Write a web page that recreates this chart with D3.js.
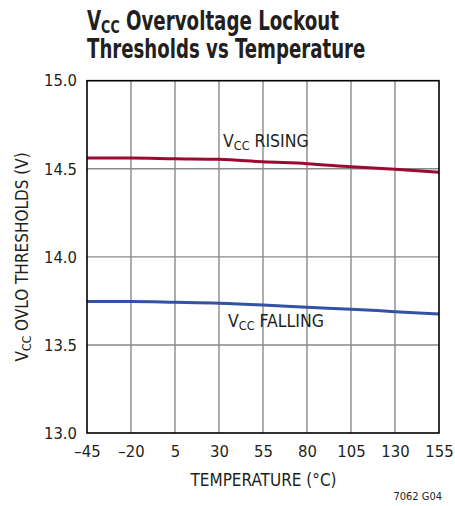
<!DOCTYPE html>
<html>
<head>
<meta charset="utf-8">
<script src="https://cdn.jsdelivr.net/npm/d3@7"></script>
<style>
  body { margin: 0; background: #fff; }
  svg { display: block; }
  text { font-family: "DejaVu Sans Condensed", "Liberation Sans Narrow", sans-serif; fill: #231f20; }
</style>
</head>
<body>
<svg id="chart" width="455" height="506"></svg>
<script>
const temperatures = [-45, -20, 5, 30, 55, 80, 105, 130, 155];
const rising  = [14.561, 14.561, 14.557, 14.554, 14.540, 14.529, 14.512, 14.497, 14.480];
const falling = [13.746, 13.746, 13.742, 13.737, 13.727, 13.714, 13.703, 13.689, 13.676];
const xTicks = [-45, -20, 5, 30, 55, 80, 105, 130, 155];
const yTicks = [13.0, 13.5, 14.0, 14.5, 15.0];

const svg = d3.select("#chart");
const m = { left: 87, top: 80.7, right: 439, bottom: 433 };

const x = d3.scaleLinear().domain([-45, 155]).range([m.left, m.right]);
const y = d3.scaleLinear().domain([13, 15]).range([m.bottom, m.top]);

// grid
const grid = svg.append("g");
grid.selectAll("line.v").data(xTicks.slice(1, -1)).join("line")
  .attr("x1", d => x(d)).attr("x2", d => x(d))
  .attr("y1", m.top).attr("y2", m.bottom)
  .attr("stroke", "#8a8a8a").attr("stroke-width", 1.4);
grid.selectAll("line.h").data(yTicks.slice(1, -1)).join("line")
  .attr("x1", m.left).attr("x2", m.right)
  .attr("y1", d => y(d)).attr("y2", d => y(d))
  .attr("stroke", "#8a8a8a").attr("stroke-width", 1.4);

// data lines
const line = d3.line().x((d, i) => x(temperatures[i])).y(d => y(d)).curve(d3.curveMonotoneX);
svg.append("path").datum(rising).attr("d", line)
  .attr("fill", "none").attr("stroke", "#9a0a32").attr("stroke-width", 3);
svg.append("path").datum(falling).attr("d", line)
  .attr("fill", "none").attr("stroke", "#3452a4").attr("stroke-width", 3);

// frame
svg.append("rect").attr("x", m.left).attr("y", m.top)
  .attr("width", m.right - m.left).attr("height", m.bottom - m.top)
  .attr("fill", "none").attr("stroke", "#000").attr("stroke-width", 1.6);

// axes (labels only)
const xAxis = d3.axisBottom(x).tickValues(xTicks).tickSize(0).tickPadding(12)
  .tickFormat(d => d < 0 ? "\u2013" + Math.abs(d) : String(d));
svg.append("g").attr("transform", `translate(0,${m.bottom})`).call(xAxis)
  .call(g => g.select(".domain").remove())
  .selectAll("text").attr("font-size", 16.5).attr("font-family", null).attr("fill", "#231f20");

const yAxis = d3.axisLeft(y).tickValues(yTicks).tickSize(0).tickPadding(10)
  .tickFormat(d3.format(".1f"));
svg.append("g").attr("transform", `translate(${m.left},0)`).call(yAxis)
  .call(g => g.select(".domain").remove())
  .selectAll("text").attr("font-size", 16.5).attr("font-family", null).attr("fill", "#231f20");

// axis titles
svg.append("text").attr("x", (m.left + m.right) / 2 + 0.5).attr("y", 486)
  .attr("text-anchor", "middle").attr("font-size", 17).text("TEMPERATURE (\u00B0C)");

const yt = svg.append("text").attr("transform", `translate(28,${(m.top + m.bottom) / 2}) rotate(-90)`)
  .attr("text-anchor", "middle").attr("font-size", 17);
yt.append("tspan").text("V");
yt.append("tspan").attr("font-size", 12).attr("dy", 3).text("CC");
yt.append("tspan").attr("dy", -3).text(" OVLO THRESHOLDS (V)");

// series labels
function vccLabel(px, py, rest) {
  const t = svg.append("text").attr("x", px).attr("y", py).attr("font-size", 17.5);
  t.append("tspan").text("V");
  t.append("tspan").attr("font-size", 12.5).attr("dy", 3).text("CC");
  t.append("tspan").attr("dy", -3).text(" " + rest);
}
vccLabel(223, 146.5, "RISING");
vccLabel(228, 326.5, "FALLING");

// title (horizontally condensed to match the narrow reference face)
const t1 = svg.append("text").attr("transform", "translate(87,29.5) scale(0.78,1)")
  .attr("font-size", 26).attr("font-weight", "bold");
t1.append("tspan").text("V");
t1.append("tspan").attr("font-size", 18).attr("dy", 3).text("CC");
t1.append("tspan").attr("dy", -3).text(" Overvoltage Lockout");
svg.append("text").attr("transform", "translate(87,57.5) scale(0.776,1)")
  .attr("font-size", 26).attr("font-weight", "bold")
  .text("Thresholds vs Temperature");

// figure id
svg.append("text").attr("x", 442).attr("y", 500).attr("text-anchor", "end")
  .attr("font-size", 11).text("7062 G04");
</script>
</body>
</html>
